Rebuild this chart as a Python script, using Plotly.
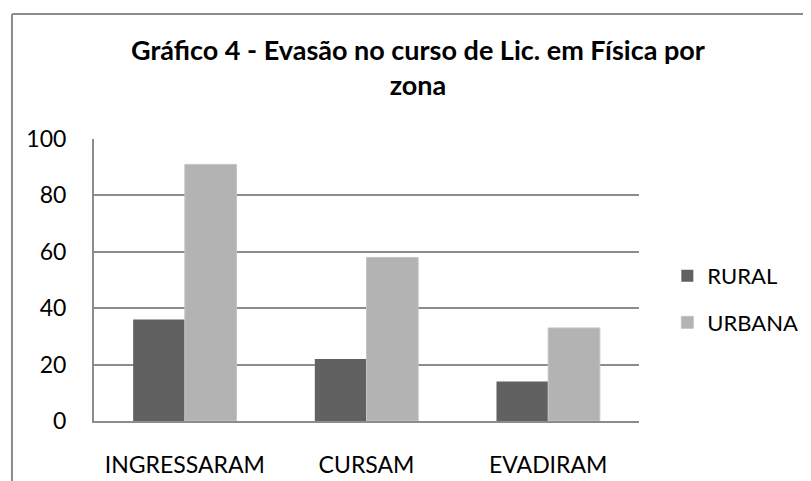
import plotly.graph_objects as go

categories = ["INGRESSARAM", "CURSAM", "EVADIRAM"]
rural = [36, 22, 14]
urbana = [91, 58, 33]
y_ticks = [0, 20, 40, 60, 80, 100]

FONT = "Lato"
GRID = "#8c8c8c"

fig = go.Figure()

fig.add_bar(
    x=categories,
    y=rural,
    name="RURAL",
    marker_color="#616161",
    marker_line_width=0,
    legendgroup="rural",
)
fig.add_bar(
    x=categories,
    y=urbana,
    name="URBANA",
    marker_color="#b3b3b3",
    marker_line=dict(color="#c4c4c4", width=1),
    legendgroup="urbana",
)

# outer frame of the chart (only the top and left edges are visible)
fig.add_shape(type="line", xref="paper", yref="paper",
              x0=-0.1505, x1=1.4, y0=1.443, y1=1.443,
              line=dict(color=GRID, width=2))
fig.add_shape(type="line", xref="paper", yref="paper",
              x0=-0.1505, x1=-0.1505, y0=-0.3, y1=1.443,
              line=dict(color=GRID, width=2))

# the page puts the figure 8px in from the top-left corner
fig.update_layout(
    width=811,
    height=481,
    margin=dict(l=86, r=180, t=131, b=68),
    paper_bgcolor="white",
    plot_bgcolor="white",
    font=dict(family=FONT, size=23, color="#000000"),
    title=dict(
        text="Gráfico 4 - Evasão no curso de Lic. em Física por<br>zona",
        x=0.5055,
        xanchor="center",
        y=1 - 52 / 481,
        yanchor="middle",
        yref="container",
        font=dict(family=FONT, size=27, color="#000000", weight="bold"),
    ),
    barmode="group",
    bargap=0.431,
    bargroupgap=0,
    showlegend=True,
    legend=dict(
        x=1.052,
        xanchor="left",
        y=0.431,
        yanchor="middle",
        traceorder="grouped",
        tracegroupgap=15,
        font=dict(family=FONT, size=22),
        bgcolor="rgba(0,0,0,0)",
    ),
)

fig.update_yaxes(
    range=[0, 100],
    tickvals=y_ticks,
    ticks="",
    ticklabelstandoff=21,
    showgrid=True,
    gridcolor=GRID,
    gridwidth=2,
    zeroline=False,
    showline=True,
    linecolor=GRID,
    linewidth=2,
    tickfont=dict(family=FONT, size=23),
)
fig.update_xaxes(
    ticks="",
    ticklabelstandoff=22,
    showline=True,
    linecolor=GRID,
    linewidth=2,
    tickfont=dict(family=FONT, size=23),
)

fig.write_html("out.html")
